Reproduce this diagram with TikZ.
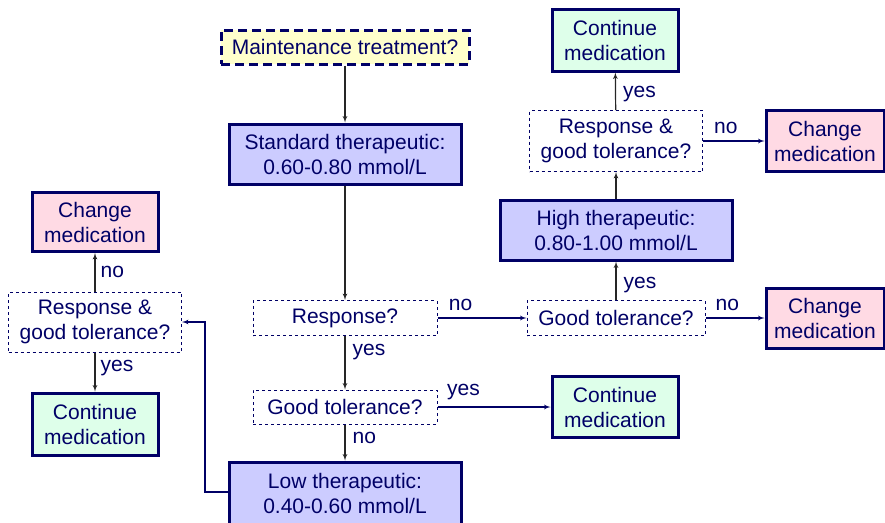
\documentclass[tikz,border=0pt]{standalone}
\usepackage{fontspec}
\setmainfont{Liberation Sans}
\usetikzlibrary{shapes,arrows}
\definecolor{navy}{RGB}{0,0,102}
\definecolor{dosefill}{RGB}{204,204,255}
\definecolor{askfill}{RGB}{255,255,204}
\definecolor{changefill}{RGB}{255,218,228}
\definecolor{contfill}{RGB}{222,255,234}
\tikzstyle{line} = [draw, -latex', line width=1.2pt, black!85]
\tikzstyle{hline} = [line, navy]
\tikzstyle{level} = [draw=navy, line width=3pt, fill=dosefill, text=navy, align=center, inner sep=0pt]
\tikzstyle{change} = [level, fill=changefill]
\tikzstyle{cont} = [level, fill=contfill]
\tikzstyle{question} = [draw=navy, dashed, line width=1pt, text=navy, align=center, inner sep=0pt]
\tikzstyle{lbl} = [text=navy, inner sep=2pt]

\begin{document}
\begin{tikzpicture}[x=1pt, y=-1pt, font=\fontsize{21}{25}\selectfont]
\useasboundingbox (0,0) rectangle (885,522);
\node (maint) at (345,47) [question, fill=askfill, line width=3pt, dash pattern=on 9pt off 5pt, minimum width=248, minimum height=34] {Maintenance treatment?};
\node (std) at (345,154) [level, minimum width=232, minimum height=60] {Standard therapeutic:\\0.60-0.80 mmol/L};
\node (resp) at (345,318) [question, minimum width=184, minimum height=35] {Response?};
\node (goodtol) at (345,407) [question, minimum width=184, minimum height=34] {Good tolerance?};
\node (low) at (345,493) [level, minimum width=232, minimum height=62] {Low therapeutic:\\0.40-0.60 mmol/L};
\node (contmid) at (615,407) [cont, minimum width=126, minimum height=61] {Continue\\medication};
\node (goodtolR) at (616,318) [question, minimum width=178, minimum height=35] {Good tolerance?};
\node (changeR) at (825,318) [change, minimum width=118, minimum height=60] {Change\\medication};
\node (high) at (616,230) [level, minimum width=232, minimum height=60] {High therapeutic:\\0.80-1.00 mmol/L};
\node (respR) at (616,141) [question, minimum width=173, minimum height=61] {Response \&\\good tolerance?};
\node (changetop) at (825,141) [change, minimum width=118, minimum height=61] {Change\\medication};
\node (conttop) at (615,40) [cont, minimum width=126, minimum height=62] {Continue\\medication};
\node (respL) at (95,322) [question, minimum width=173, minimum height=60] {Response \&\\good tolerance?};
\node (changeL) at (95,222) [change, minimum width=126, minimum height=59] {Change\\medication};
\node (contL) at (95,424) [cont, minimum width=126, minimum height=62] {Continue\\medication};
\coordinate (back) at (205,492);
% draw lines
\path [line] (maint) -- (std);
\path [line] (std) -- (resp);
\path [line] (resp) -- node[lbl, right=5pt, pos=0.3] {yes} (goodtol);
\path [hline] (resp) -- node[lbl, above=5pt, pos=0.26] {no} (goodtolR);
\path [hline] (goodtol) -- node[lbl, above=5pt, pos=0.23] {yes} (contmid);
\path [line] (goodtol) -- node[lbl, right=5pt, pos=0.37] {no} (low);
\path [hline] (low.west |- back) -- (back) |- (respL.east);
\path [line] (respL) -- node[lbl, right=3pt, pos=0.5] {no} (changeL);
\path [line] (respL) -- node[lbl, right=3pt, pos=0.4] {yes} (contL);
\path [line] (goodtolR) -- node[lbl, right=5pt, pos=0.4] {yes} (high);
\path [hline] (goodtolR) -- node[lbl, above=5pt, pos=0.37] {no} (changeR);
\path [line] (high) -- (respR);
\path [line] (respR) -- node[lbl, right=5pt, pos=0.43] {yes} (conttop);
\path [hline] (respR) -- node[lbl, above=5pt, pos=0.37] {no} (changetop);
\end{tikzpicture}
\end{document}
